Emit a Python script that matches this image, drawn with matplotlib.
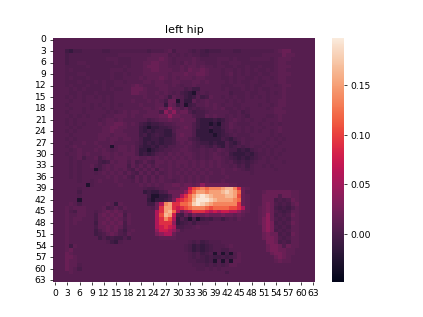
import numpy as np
import matplotlib
matplotlib.use("Agg")
import matplotlib.pyplot as plt
import seaborn as sns

title = "left hip"
vmin, vmax = -0.0485, 0.198
tick_step = 3

level_codes = "#%=-:.,;+abcdefghijk"
level_values = [-0.028, -0.013, -0.007, -0.002, 0.003, 0.007, 0.012, 0.018, 0.026, 0.04,
                0.058, 0.075, 0.09, 0.105, 0.12, 0.135, 0.15, 0.165, 0.18, 0.195]

# values, one string per heatmap row, one code per cell
rows = [
".......... .......... .......... .......... .......... .......... ....",
".......... .......... .......... .......... .......... .......... ....",
".......... .......... .......... .......... .......... .......... ....",
"...=%--::: ::--:::::: :::-:::.,- ...:-:-=-- -:::--:::: ::::.,;;.. ....",
"...-:::::: ::::::.... ....,,,,:. :.:.::--:: :::::::::: :.....;,,. ....",
"...-:::::: :::...:::. ...,,,;,.: ....,.:::: ...:.:::.. ...:.,,,.. ....",
"...-::..:: :::::.:::. ..,,;;,,.: .:,.,..::: .::...:::: ::::.,,... ....",
"...:::::.: :::::::.:. ..,;;;,,.. .,.,,.,..: ..::.::.:: .:::.,,,.. ....",
"...:.::::: ::::...:.. ..,,;;,,,. .,.;,,;,.. .:..:.:.:. ::.:.,,... ....",
"...:::..:: ::::.::.:. ..,,,,,,., ,,;,,;;,.. .:.,:.:.:: .::..,,,.. ....",
"...:.:::.: ::::.::... .,.,,,;,., .,,,.,,... .::.:..::. :..:.,,... ....",
"...:::.::: .:.::..:.. ..,,.,,.., ,...,,.,.. ..:.:.::.. ::...,,... ....",
"...:.:::.: ::.::...., ;,...,,,., .:..,..... .:::...:.: :...:.,,.. ....",
"....:.:.:: ::.:.::..; ;;,...,,.. ..-:==.... .:.:::.:.: .::...,... ....",
"....::.::: .::::....; ;,,..,.,.: .-=%#:.:.. ...-:::.:: ..:.:.,... ....",
"...:.:.:.. :.:.:..... ..,...,.=, .:=%=.=-,. .:.:.::.:. :.:...,... ....",
"....:..:.. ..:.:...., ...,.,.-;; #:%%,:.,.. ..:.:.:... ..:..,,... ....",
"...:.....: .:..:.:... .,...,,%;, =:#=-..,., .:..::.... :..:.,,... ....",
"....:..:.: ..:.:..... ..,,.,;,a; ,:,-:-:.., .,::.:.:.. ..:.,,.... ....",
"...:...:.. ...:.:.,., ,..,,,-a;a ,;;:=--:.. ...::.-:.. ....,,,... ....",
"....:.:.:. ..:..,,,., ..,,,,;;a; ;,,,:--,., ..:.:.:-.. ..::.,.... ....",
"...:.:.... .:.,,.,... ...-:.,,;, ,;,,,=%%%= %=:.,.:.:. .:...,.... ....",
"...:.:.:.. .,.,,;;,., .-=%==-::. ,,,,:=%%#% #-:,.:::.. :..:.:.... ....",
"....:.:... ..,,;;,,.. .=%#%%==-: .,;,:=%%=% %-:,..:.:. .:...,.... ....",
"...:.:.... ..,,;,,... .=%=%==%%: ,,,,:%%%#% %=:.:.:.:. :..:.,.... ....",
"....:..... .,,,.,,,.. .=-%=-=%%- ,;,,:%%%%# %=-:.:::.. ...:.:.... ....",
"...:.:.... .,,.,,.,,. .-%%==%==- ,,,:-=%%%% %-=%-:.::. ..:.:.:... ....",
"....:..,.. ,...,..... :-%=%=%==- .,.,:-==%= %%:=%-.:.. .:...:.... ....",
"...:.,.... .,..#.,,., :=%%=%-=:: ..,.:-:-=: =%:=-:-:.: :.:.:..... ....",
"....:.,... ,.,.:.,,., :%%#%=-::. .,,.::.:.: ,.:--%=%-: .:.:..:... ....",
"...:..,.,. ..,,.,.,,, :%=%=:.:,. ,.,,.:.:., .:.=%%%=%- ::.:.:.... ....",
"....:.,-.. ,-.,.,,,., ,..,.,.,., .,.,.:.:., ,.:-=%=%=- :.:.:..... ....",
"....:.:... .-=-,.,,:, -:,:-,,.,. ,,,.,.,.,. ,.:.-=-=-: ..:...:... ....",
"....:.:.., :-.,.,,,-, :,:,:,..,. ,.,.,.,.,. ,..:.-:=:. .:.:...... ....",
"....:.:... #-.,.,.,:- ,:,:,-,.,. .,.,.,.,.. .,..,.:-:. ....:..... ....",
"....:.:... :.,.,.,:,: -,:,:,:.,. ,.,.,.,.,. .,......:. .......... ....",
"....:.:... ...,.,.,:- ,:,:,:,.,. .,.,.,.,.. ..,....... .......... ....",
"......:..: .,...,...: ,:,:,.,..: .,.,.,.,.. .,........ .......... ....",
"........#: ......,... .,.,.,.,,; ;,;;,;a;;; ;;;,,..... .......... ....",
"......:... .......... ..:--:.,,, ,;;cefgfgg ghiigd;,.. .......... ....",
"......-... .......... ..%=%%-:;; ;;adfhhghh hijihf;... .,;;;;;;,, ....",
"......:... .......... ...=##%%-; ;bdfhjkjih hhiihe;,.. .;;;;:;;,, ....",
"......#... .......... ...%#%%=:+ cdefikkkji hhhhgf;,.. .;;;-:-:;, ....",
"....,.-... ...,.%,... ...==;bghd dffgjkjihg gggggd;,.. .;+;:-:-,; ....",
"...,.,,,.. ..,-:,:,.. ....:;dhhd cdefgggfef fffeedb,.. ,;+;-=-=:, ....",
"...,:-,,.. :.,;,;,:.. .....bdhif b;abdddcbc bccbba;,.. ,;+;:-=-,, ....",
"...,..,,.. -,;,;,;-,. .....beihc -=;:+;;+;; ;+;;,;,... ,;a;-:-:;, ....",
"...,.,,... -,,;,;,:,. .....bdgeb %:=#-#=-=: :=:.:,.... ,+a;:-:-,, ....",
"...,.,.... =,;,;,;-,. .....bddda %=-:=:::.. .......... ,+a+-:-:;, ....",
"...,...... -,,;,;,-.. .....bcdcb --::.,.... .......... .+a+:-:-,, ....",
"...,...... =:,;,;:=., .....accba ;:........ .......... .+a+-:-:,, ....",
"...,...... =-:,;,:-,. .....+abb; .......... .......... .;+;;-:-;, ....",
"...,...... .=:=-==:=. ......,,,, .......... .......... .;++;:-:,, ....",
"...,...... ...:=%:... .......... ...:-:=-:: :......... ..++;-:-,, ....",
"...,=,.... .......... .......... ..:-%=%=-: ::.,...... ..;++;:;,, ....",
"...,;..... .......... .......... ..:-%=%=-: :--....... ..;++;;,,. ....",
"...;,..... .......... .......... ...:-:=-:# :#-#:,.... ...;++;,,. ....",
"...;;,.... .......... .......... ...:-:-=-= =-=-:,.... ....;+;,.. ....",
"...;,,.... .......... .......... ...::--=-# :#:#,,.... ....,;,,.. ....",
"...;,,:... .......... .......... ....:::-:- :-:,,..... .......... ....",
"...;,.-... .......... .......... .....::.:. :......... .......... ....",
"....,..... .......... .......... .......... ..-....... .......... ....",
".......... .......... .......... .......... .......... .......... ....",
".......... .......... .......... .......... .......... .......... ....",
]

lookup = dict(zip(level_codes, level_values))
clean = [r.replace(" ", "").ljust(64, ".")[:64] for r in rows]
data = np.array([[lookup[c] for c in r] for r in clean])

fig = plt.figure(figsize=(6.4, 4.8), dpi=66.1)
ax = sns.heatmap(data, vmin=vmin, vmax=vmax, cmap="rocket",
                 xticklabels=tick_step, yticklabels=tick_step)
ax.tick_params(axis="y", labelrotation=0)
ax.tick_params(axis="x", labelrotation=0)
ax.set_title(title)
fig.savefig("out.png", dpi=66.1)
